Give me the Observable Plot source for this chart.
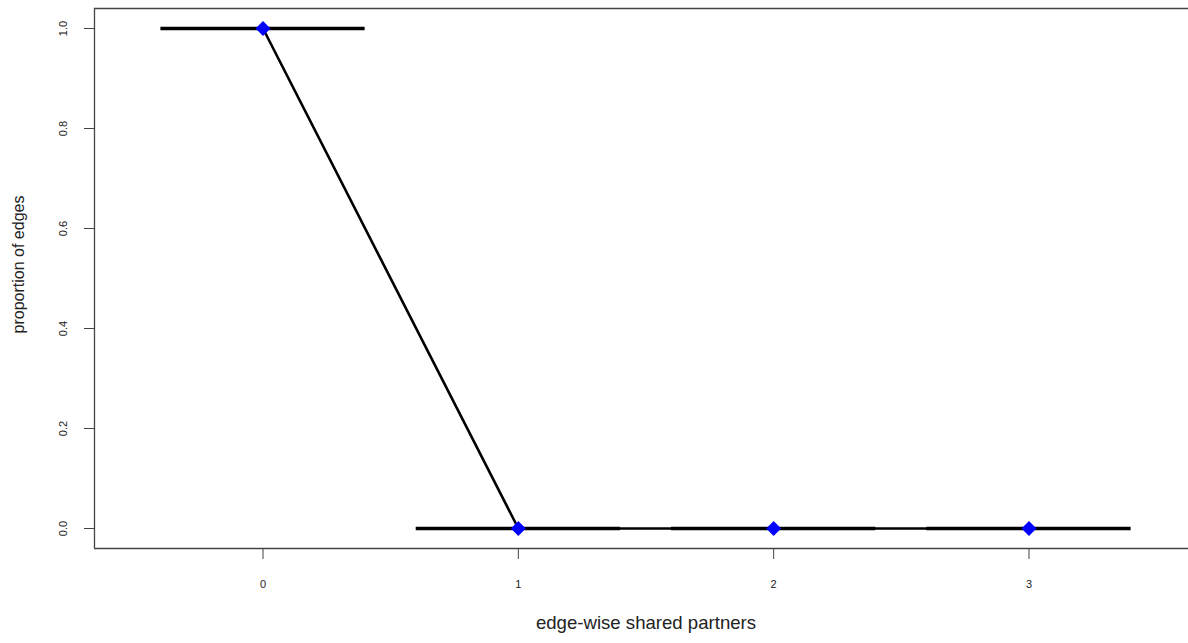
<!DOCTYPE html>
<html>
<head>
<meta charset="utf-8">
<script src="https://cdn.jsdelivr.net/npm/d3@7"></script>
<script src="https://cdn.jsdelivr.net/npm/@observablehq/plot@0.6"></script>
<style>
  html, body { margin: 0; padding: 0; background: #fff; overflow: hidden; }
  #chart { width: 1188px; height: 643px; overflow: hidden; }
  #chart svg { overflow: hidden; }
</style>
</head>
<body>
<div id="chart"></div>
<script>
// Edge-wise shared partners: observed proportions and simulated summaries
const partners = [0, 1, 2, 3];
const observed = [1, 0, 0, 0];
const simulatedMedian = [1, 0, 0, 0];
const xTickValues = [0, 1, 2, 3];
const yTickValues = [0, 0.2, 0.4, 0.6, 0.8, 1.0];
const xTitle = "edge-wise shared partners";
const yTitle = "proportion of edges";

const rows = partners.map((k, i) => ({k, obs: observed[i], med: simulatedMedian[i]}));
const halfBox = 0.4;
const axisColor = "#444";
const xDomain = [-0.66, 3.66];
const yDomain = [-0.04, 1.04];

const chart = Plot.plot({
  width: 1188,
  height: 643,
  marginLeft: 94,
  marginRight: -9,
  marginTop: 8,
  marginBottom: 95,
  style: {fontFamily: "'Liberation Sans', Arial, Helvetica, sans-serif", color: "#222", background: "#fff"},
  x: {domain: xDomain, axis: null},
  y: {domain: yDomain, axis: null},
  marks: [
    // plot box: top, bottom and left sides (the right side lies past the canvas)
    Plot.ruleY(yDomain, {x1: xDomain[0], x2: xDomain[1], stroke: axisColor, strokeWidth: 1.3}),
    Plot.ruleX([xDomain[0]], {stroke: axisColor, strokeWidth: 1.3}),
    // axes
    Plot.axisX(xTickValues, {tickSize: 11, tickPadding: 21, fontSize: 11, stroke: axisColor, tickFormat: d3.format("d"), label: null}),
    Plot.axisY(yTickValues, {tickSize: 10, stroke: axisColor, tickFormat: () => "", label: null}),
    Plot.text(yTickValues, {y: d => d, text: d3.format(".1f"), frameAnchor: "left", textAnchor: "middle", dx: -31, rotate: -90, fontSize: 11}),
    // simulated summaries (boxes collapsed to median lines)
    Plot.ruleY(rows, {x1: d => d.k - halfBox, x2: d => d.k + halfBox, y: "med", stroke: "black", strokeWidth: 3.5}),
    // observed statistics
    Plot.line(rows, {x: "k", y: "obs", stroke: "black", strokeWidth: 2.6}),
    Plot.dot(rows, {x: "k", y: "obs", symbol: "diamond2", r: 6.7, fill: "blue", stroke: "none"}),
    // titles
    Plot.text([xTitle], {frameAnchor: "bottom", dy: 80, fontSize: 18.6}),
    Plot.text([yTitle], {frameAnchor: "left", textAnchor: "middle", dx: -76, dy: -14, rotate: -90, fontSize: 16})
  ]
});
document.getElementById("chart").appendChild(chart);
</script>
</body>
</html>
